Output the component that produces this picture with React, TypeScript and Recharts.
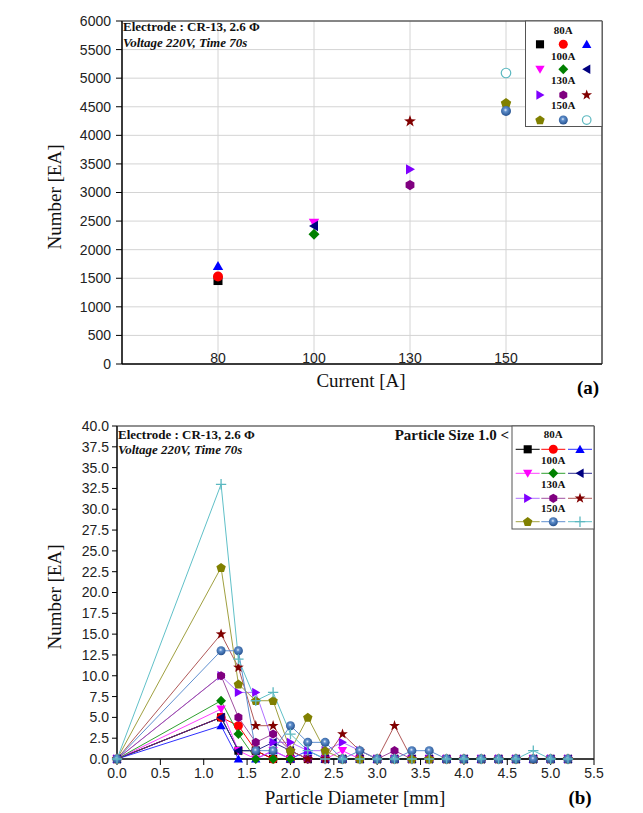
import { ScatterChart, Scatter, LineChart, Line, XAxis, YAxis, CartesianGrid } from 'recharts'

// ---- panel (a): total particle count per run ----
const currents = ['80', '100', '130', '150']
const groups = ['80A', '100A', '130A', '150A']
const runCurrent = [0, 0, 0, 1, 1, 1, 2, 2, 2, 3, 3, 3]
const totalCounts = [1460, 1530, 1715, 2470, 2270, 2415, 3405, 3130, 4245, 4565, 4425, 5090]
const yTicksA = [0, 500, 1000, 1500, 2000, 2500, 3000, 3500, 4000, 4500, 5000, 5500, 6000]

// ---- panel (b): particle count by diameter ----
const diameters = [0, 1.2, 1.4, 1.6, 1.8, 2.0, 2.2, 2.4, 2.6, 2.8, 3.0, 3.2, 3.4, 3.6, 3.8, 4.0, 4.2, 4.4, 4.6, 4.8, 5.0, 5.2]
const n80a = [0, 5, 1, 1, 0, 0, 0, 0, 0, 0, 0, 0, 0, 0, 0, 0, 0, 0, 0, 0, 0, 0]
const n80b = [0, 5, 4, 1, 0, 0, 0, 0, 0, 0, 0, 0, 0, 0, 0, 0, 0, 0, 0, 0, 0, 0]
const n80c = [0, 4, 0, 0, 1, 0, 1, 0, 0, 0, 0, 0, 0, 0, 0, 0, 0, 0, 0, 0, 0, 0]
const n100a = [0, 6, 1, 0, 1, 0, 0, 0, 1, 0, 0, 0, 0, 0, 0, 0, 0, 0, 0, 0, 0, 0]
const n100b = [0, 7, 3, 0, 0, 0, 0, 0, 0, 0, 0, 0, 0, 0, 0, 0, 0, 0, 0, 0, 0, 0]
const n100c = [0, 5, 1, 1, 2, 1, 0, 0, 0, 0, 0, 0, 0, 0, 0, 0, 0, 0, 0, 0, 0, 0]
const n130a = [0, 10, 8, 8, 2, 2, 1, 1, 2, 1, 0, 0, 0, 0, 0, 0, 0, 0, 0, 0, 0, 0]
const n130b = [0, 10, 5, 2, 3, 1, 0, 0, 0, 0, 0, 1, 0, 0, 0, 0, 0, 0, 0, 0, 0, 0]
const n130c = [0, 15, 11, 4, 4, 1, 0, 0, 3, 1, 0, 4, 0, 0, 0, 0, 0, 0, 0, 0, 0, 0]
const n150a = [0, 23, 9, 7, 7, 1, 5, 1, 0, 0, 0, 0, 0, 0, 0, 0, 0, 0, 0, 0, 0, 0]
const n150b = [0, 13, 13, 1, 1, 4, 2, 2, 0, 1, 0, 0, 1, 1, 0, 0, 0, 0, 0, 0, 0, 0]
const n150c = [0, 33, 12, 7, 8, 3, 1, 0, 0, 0, 0, 0, 0, 0, 0, 0, 0, 0, 0, 1, 0, 0]
const xTicksB = [0, 0.5, 1, 1.5, 2, 2.5, 3, 3.5, 4, 4.5, 5, 5.5]
const yTicksB = [0, 2.5, 5, 7.5, 10, 12.5, 15, 17.5, 20, 22.5, 25, 27.5, 30, 32.5, 35, 37.5, 40]

const seriesB = [n80a, n80b, n80c, n100a, n100b, n100c, n130a, n130b, n130c, n150a, n150b, n150c]
const particleData = diameters.map((d, i) => {
  const row: any = { d }
  seriesB.forEach((arr, k) => (row['s' + k] = arr[i]))
  return row
})

// marker styles, one per run
const kindsA = ['square', 'circle', 'triUp', 'triDown', 'diamond', 'triLeft', 'triRight', 'hexagon', 'star', 'pentagon', 'sphere', 'ring']
const kindsB = ['square', 'circle', 'triUp', 'triDown', 'diamond', 'triLeft', 'triRight', 'hexagon', 'star', 'pentagon', 'sphere', 'plus']
const markColors = ['#000000', '#ff0000', '#0000ff', '#ff00ff', '#008000', '#000080', '#8000ff', '#800080', '#800000', '#808000', '#3b6fb0', '#5cb8c0']
const lineColors = ['#000000', '#ff0000', '#3030ff', '#ff40ff', '#30a030', '#303090', '#b070ff', '#a050a0', '#b05858', '#a0a040', '#6090d0', '#60c0c8']

const SERIF = "'Liberation Serif', 'Times New Roman', serif"
const SANS = "'Liberation Sans', Arial, sans-serif"

function poly(cx: number, cy: number, r: number, n: number, rot: number) {
  return Array.from({ length: n }, (_, i) => {
    const a = rot + (i * 2 * Math.PI) / n
    return `${cx + r * Math.cos(a)},${cy + r * Math.sin(a)}`
  }).join(' ')
}

function starPts(cx: number, cy: number, ro: number, ri: number) {
  return Array.from({ length: 10 }, (_, i) => {
    const a = -Math.PI / 2 + (i * Math.PI) / 5
    const r = i % 2 === 0 ? ro : ri
    return `${cx + r * Math.cos(a)},${cy + r * Math.sin(a)}`
  }).join(' ')
}

function Marker({ kind, cx, cy, s, color }: any) {
  if (cx == null || cy == null) return null
  const r = s / 2
  switch (kind) {
    case 'square':
      return <rect x={cx - r * 0.9} y={cy - r * 0.9} width={r * 1.8} height={r * 1.8} fill={color} />
    case 'circle':
      return <circle cx={cx} cy={cy} r={r} fill={color} />
    case 'triUp':
      return <polygon points={poly(cx, cy + r * 0.2, r * 1.2, 3, -Math.PI / 2)} fill={color} />
    case 'triDown':
      return <polygon points={poly(cx, cy - r * 0.2, r * 1.2, 3, Math.PI / 2)} fill={color} />
    case 'triLeft':
      return <polygon points={poly(cx + r * 0.2, cy, r * 1.2, 3, Math.PI)} fill={color} />
    case 'triRight':
      return <polygon points={poly(cx - r * 0.2, cy, r * 1.2, 3, 0)} fill={color} />
    case 'diamond':
      return <polygon points={poly(cx, cy, r * 1.1, 4, -Math.PI / 2)} fill={color} />
    case 'hexagon':
      return <polygon points={poly(cx, cy, r * 1.02, 6, -Math.PI / 2)} fill={color} />
    case 'pentagon':
      return <polygon points={poly(cx, cy + r * 0.08, r * 1.1, 5, -Math.PI / 2)} fill={color} />
    case 'star':
      return <polygon points={starPts(cx, cy, r * 1.25, r * 0.5)} fill={color} />
    case 'sphere':
      return <circle cx={cx} cy={cy} r={r} fill="url(#sphereGrad)" />
    case 'ring':
      return <circle cx={cx} cy={cy} r={r * 0.95} fill="#fff" stroke={color} strokeWidth={1.2} />
    case 'plus':
      return (
        <path
          d={`M${cx - r * 1.15},${cy}H${cx + r * 1.15}M${cx},${cy - r * 1.15}V${cy + r * 1.15}`}
          stroke={color}
          strokeWidth={1.3}
        />
      )
  }
  return null
}

const CurrentTick = ({ x, y, payload }: any) => (
  <text x={x} y={y - 1} textAnchor="middle" fontSize={14} fontFamily={SANS} fill="#222">
    {currents[payload.value - 1]}
  </text>
)

function LegendBox({ x, y, w, h, rowYs, headYs, colXs, kinds, withLines }: any) {
  return (
    <g>
      <rect x={x} y={y} width={w} height={h} fill="#fff" stroke="#555" strokeWidth={1} />
      {groups.map((g, gi) => (
        <g key={g}>
          <text x={colXs[1]} y={headYs[gi]} textAnchor="middle" dominantBaseline="middle" fontSize={11} fontWeight="bold" fontFamily={SERIF} fill="#111">
            {g}
          </text>
          {colXs.map((cx: number, ci: number) => {
            const k = gi * 3 + ci
            return (
              <g key={ci}>
                {withLines && <line x1={cx - 12} x2={cx + 12} y1={rowYs[gi]} y2={rowYs[gi]} stroke={lineColors[k]} strokeWidth={1} />}
                <Marker kind={kinds[k]} cx={cx} cy={rowYs[gi]} s={9} color={markColors[k]} />
              </g>
            )
          })}
        </g>
      ))}
    </g>
  )
}

export default function App() {
  return (
    <div style={{ position: 'absolute', left: 0, top: 0, width: 643, height: 813, background: '#fff' }}>
      <svg width={0} height={0} style={{ position: 'absolute' }}>
        <defs>
          <radialGradient id="sphereGrad" cx="0.45" cy="0.4" r="0.6">
            <stop offset="0%" stopColor="#e8f0fb" />
            <stop offset="30%" stopColor="#5f8fcc" />
            <stop offset="100%" stopColor="#24508e" />
          </radialGradient>
        </defs>
      </svg>

      <div style={{ position: 'absolute', left: 0, top: 0 }}>
        <ScatterChart width={643} height={400} margin={{ top: 21, right: 41, bottom: 6, left: 62 }}>
          <CartesianGrid stroke="#d4d4d4" strokeWidth={1} />
          <XAxis
            type="number"
            dataKey="x"
            domain={[0, 5]}
            ticks={[1, 2, 3, 4]}
            interval={0}
            tick={<CurrentTick />}
            tickLine={false}
            tickSize={0}
            tickMargin={0}
            height={30}
            axisLine={{ stroke: '#000', strokeWidth: 1.5 }}
          />
          <YAxis
            type="number"
            dataKey="y"
            domain={[0, 6000]}
            ticks={yTicksA}
            interval={0}
            width={60}
            tickSize={6}
            tickMargin={5}
            tickLine={{ stroke: '#000' }}
            axisLine={{ stroke: '#000', strokeWidth: 1.5 }}
            tick={{ fontSize: 14, fontFamily: SANS, fill: '#222' }}
          />
          {totalCounts.map((v, i) => (
            <Scatter
              key={i}
              data={[{ x: runCurrent[i] + 1, y: v }]}
              isAnimationActive={false}
              shape={(p: any) => <Marker kind={kindsA[i]} cx={p.cx} cy={p.cy} s={10} color={markColors[i]} />}
            />
          ))}
        </ScatterChart>
      </div>

      <div style={{ position: 'absolute', left: 0, top: 400 }}>
        <LineChart width={643} height={413} data={particleData} margin={{ top: 26, right: 49, bottom: 24, left: 57 }}>
          <XAxis
            type="number"
            dataKey="d"
            domain={[0, 5.5]}
            ticks={xTicksB}
            interval={0}
            tickFormatter={(v: number) => v.toFixed(1)}
            height={30}
            tickSize={6}
            tickMargin={3}
            tickLine={{ stroke: '#000' }}
            axisLine={{ stroke: '#000', strokeWidth: 1.5 }}
            tick={{ fontSize: 14, fontFamily: SANS, fill: '#222' }}
          />
          <YAxis
            type="number"
            domain={[0, 40]}
            ticks={yTicksB}
            interval={0}
            tickFormatter={(v: number) => v.toFixed(1)}
            width={60}
            tickSize={5}
            tickMargin={3}
            tickLine={{ stroke: '#000' }}
            axisLine={{ stroke: '#000', strokeWidth: 1.5 }}
            tick={{ fontSize: 14, fontFamily: SANS, fill: '#222' }}
          />
          {seriesB.map((_, k) => (
            <Line
              key={k}
              dataKey={'s' + k}
              stroke={lineColors[k]}
              strokeWidth={1}
              isAnimationActive={false}
              dot={(p: any) => <Marker key={`m${k}-${p.index}`} kind={kindsB[k]} cx={p.cx} cy={p.cy} s={9} color={markColors[k]} />}
              activeDot={false}
            />
          ))}
        </LineChart>
      </div>

      <svg width={643} height={813} style={{ position: 'absolute', left: 0, top: 0, pointerEvents: 'none' }}>
        {/* panel (a) frame and notes */}
        <line x1={122} x2={602} y1={21} y2={21} stroke="#222" strokeWidth={1.2} />
        <line x1={602} x2={602} y1={21} y2={364} stroke="#222" strokeWidth={1.2} />
        <text x={123} y={28.5} dominantBaseline="middle" fontSize={13} fontWeight="bold" fontFamily={SERIF} fill="#111">
          Electrode : CR-13, 2.6 Φ
        </text>
        <text x={123} y={44.5} dominantBaseline="middle" fontSize={13} fontWeight="bold" fontStyle="italic" fontFamily={SERIF} fill="#111">
          Voltage 220V, Time 70s
        </text>
        <LegendBox
          x={525.5} y={21} w={76.5} h={105.5}
          headYs={[31.7, 57.3, 81.7, 106.7]}
          rowYs={[44.3, 69.3, 95, 120]}
          colXs={[540, 563.3, 586.7]}
          kinds={kindsA}
          withLines={false}
        />
        <text x={57} y={197} transform="rotate(-90 57 197)" textAnchor="middle" dominantBaseline="middle" fontSize={19} fontFamily={SERIF} fill="#111">
          Number [EA]
        </text>
        <text x={361} y={383} textAnchor="middle" dominantBaseline="middle" fontSize={19} fontFamily={SERIF} fill="#111">
          Current [A]
        </text>
        <text x={588} y={390} textAnchor="middle" dominantBaseline="middle" fontSize={19} fontWeight="bold" fontFamily={SERIF} fill="#000">
          (a)
        </text>

        {/* panel (b) frame and notes */}
        <line x1={117} x2={594} y1={426} y2={426} stroke="#222" strokeWidth={1.2} />
        <line x1={594} x2={594} y1={426} y2={759} stroke="#222" strokeWidth={1.2} />
        <text x={118} y={436} dominantBaseline="middle" fontSize={13} fontWeight="bold" fontFamily={SERIF} fill="#111">
          Electrode : CR-13, 2.6 Φ
        </text>
        <text x={118} y={451.5} dominantBaseline="middle" fontSize={13} fontWeight="bold" fontStyle="italic" fontFamily={SERIF} fill="#111">
          Voltage 220V, Time 70s
        </text>
        <text x={509} y={437} textAnchor="end" dominantBaseline="middle" fontSize={15} fontWeight="bold" fontFamily={SERIF} fill="#111">
          Particle Size 1.0 &lt;
        </text>
        <LegendBox
          x={512} y={426} w={82} h={103}
          headYs={[435, 461.7, 485, 509.3]}
          rowYs={[449.3, 473.3, 498.3, 521.7]}
          colXs={[527.7, 553.3, 580]}
          kinds={kindsB}
          withLines={true}
        />
        <text x={57} y={597} transform="rotate(-90 57 597)" textAnchor="middle" dominantBaseline="middle" fontSize={19} fontFamily={SERIF} fill="#111">
          Number [EA]
        </text>
        <text x={355} y={800} textAnchor="middle" dominantBaseline="middle" fontSize={19} fontFamily={SERIF} fill="#111">
          Particle Diameter [mm]
        </text>
        <text x={580} y={800} textAnchor="middle" dominantBaseline="middle" fontSize={19} fontWeight="bold" fontFamily={SERIF} fill="#000">
          (b)
        </text>
      </svg>
    </div>
  )
}
